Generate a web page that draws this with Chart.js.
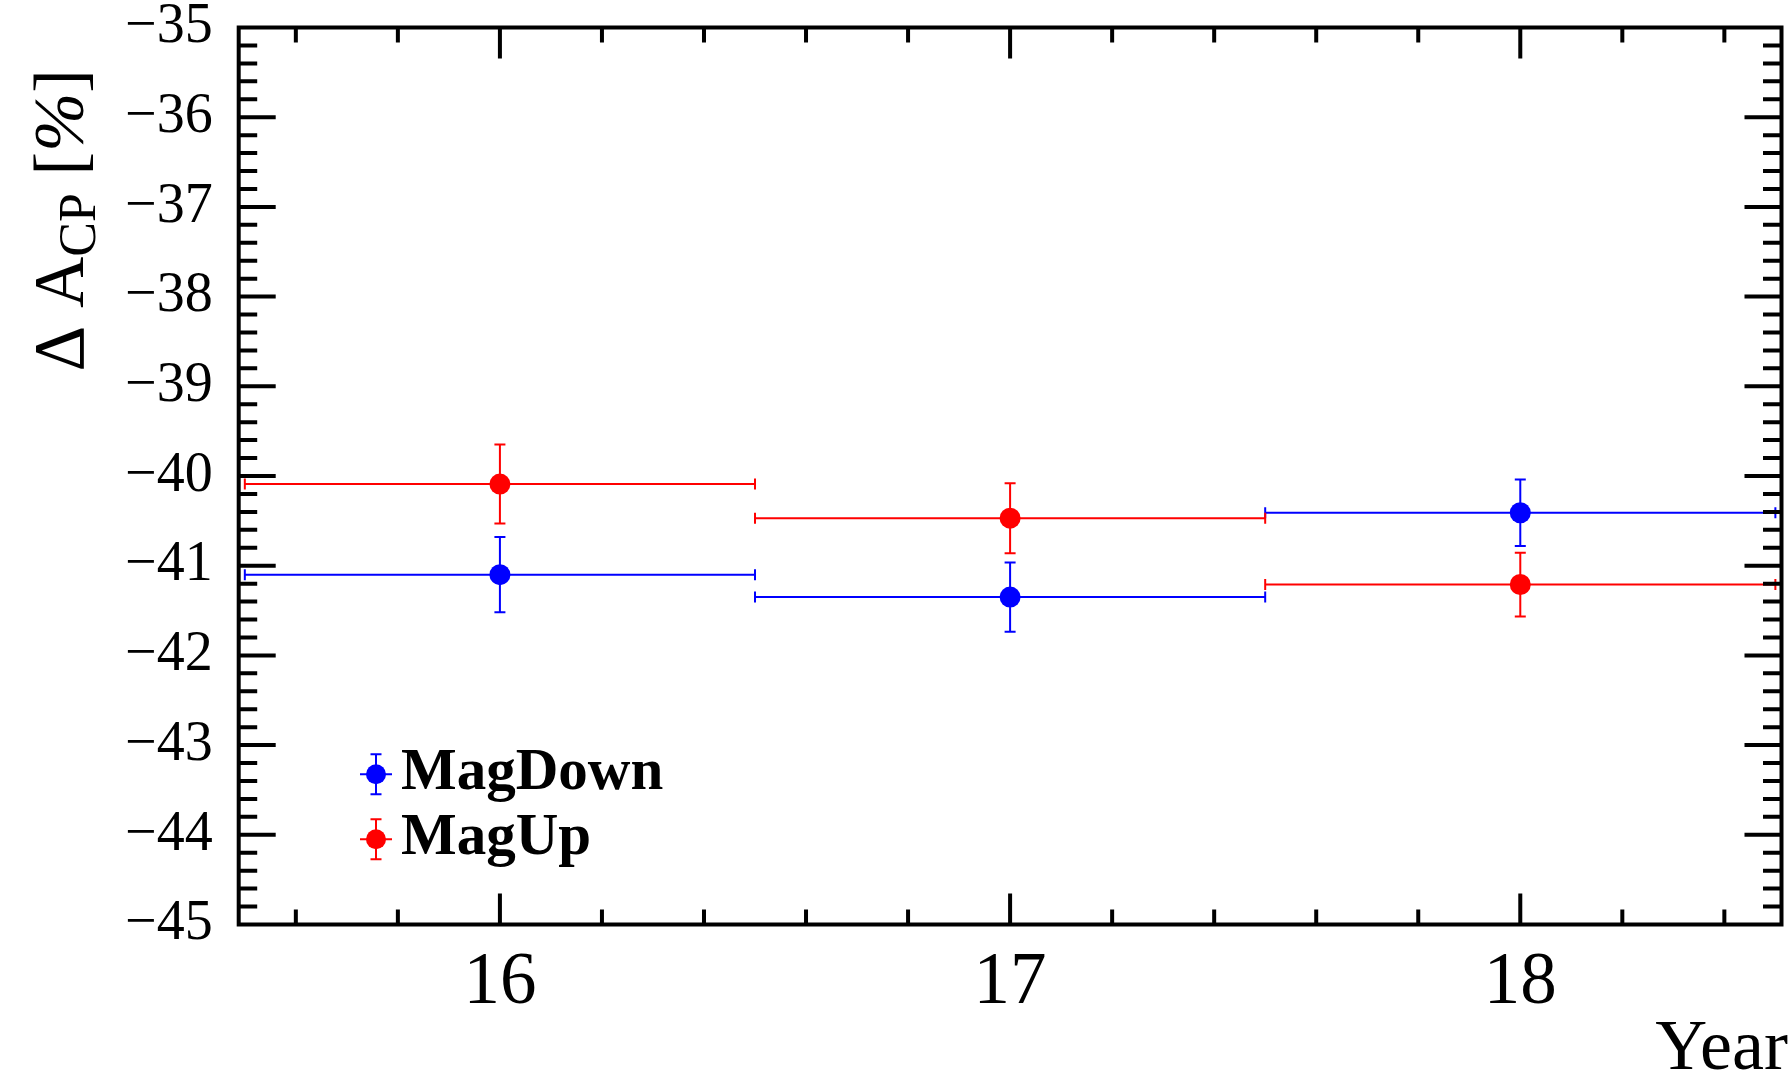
<!DOCTYPE html>
<html>
<head>
<meta charset="utf-8">
<title>Delta A_CP per year</title>
<script src="https://cdn.jsdelivr.net/npm/chart.js@4.4.1/dist/chart.umd.min.js"></script>
<style>
  html, body { margin: 0; padding: 0; background: #ffffff; }
  canvas { display: block; }
</style>
</head>
<body>
<canvas id="acp" width="1792" height="1078"></canvas>
<script>
// Data-taking years (bin centres) and half bin widths
const years = [16, 17, 18];
const yearHalfWidth = [0.5, 0.5, 0.5];

// Delta A_CP [%] per magnet polarity, with statistical uncertainties
const magDownValues = [-41.10, -41.35, -40.41];
const magDownErrors = [0.42, 0.385, 0.37];
const magUpValues = [-40.09, -40.47, -41.21];
const magUpErrors = [0.44, 0.39, 0.355];

// Axis tick labels
const xTickValues = [16, 17, 18];
const xTickLabels = ['16', '17', '18'];
const yTickValues = [-45, -44, -43, -42, -41, -40, -39, -38, -37, -36, -35];

const SERIF = '"Liberation Serif", "Times New Roman", serif';

function points(values) {
  return years.map((x, i) => ({ x: x, y: values[i] }));
}

const datasets = [
  { label: 'MagDown', color: '#0000ff', values: magDownValues, errors: magDownErrors },
  { label: 'MagUp', color: '#ff0000', values: magUpValues, errors: magUpErrors }
].map(s => ({
  label: s.label,
  data: points(s.values),
  yErr: s.errors,
  xErr: yearHalfWidth,
  backgroundColor: s.color,
  borderColor: s.color,
  pointRadius: 10.5,
  pointHoverRadius: 10.5,
  pointBorderWidth: 0,
  showLine: false
}));

// Error bars (x = bin width, y = uncertainty) with end caps, drawn under markers
const errorBars = {
  id: 'errorBars',
  beforeDatasetsDraw(chart) {
    const ctx = chart.ctx;
    const xs = chart.scales.x, ys = chart.scales.y;
    const cap = 5.5;
    ctx.save();
    ctx.lineWidth = 2;
    ctx.lineCap = 'butt';
    chart.data.datasets.forEach(ds => {
      ctx.strokeStyle = ds.borderColor;
      ds.data.forEach((p, i) => {
        const px = xs.getPixelForValue(p.x);
        const py = ys.getPixelForValue(p.y);
        const xl = xs.getPixelForValue(p.x - ds.xErr[i]);
        const xr = xs.getPixelForValue(p.x + ds.xErr[i]);
        const yt = ys.getPixelForValue(p.y + ds.yErr[i]);
        const yb = ys.getPixelForValue(p.y - ds.yErr[i]);
        ctx.beginPath();
        ctx.moveTo(xl, py); ctx.lineTo(xr, py);
        ctx.moveTo(xl, py - cap); ctx.lineTo(xl, py + cap);
        ctx.moveTo(xr, py - cap); ctx.lineTo(xr, py + cap);
        ctx.moveTo(px, yt); ctx.lineTo(px, yb);
        ctx.moveTo(px - cap, yt); ctx.lineTo(px + cap, yt);
        ctx.moveTo(px - cap, yb); ctx.lineTo(px + cap, yb);
        ctx.stroke();
      });
    });
    ctx.restore();
  }
};

// Frame, inward ticks on all four sides, axis titles and legend
const frameAndDecor = {
  id: 'frameAndDecor',
  afterDraw(chart) {
    const ctx = chart.ctx;
    const a = chart.chartArea;
    const xs = chart.scales.x, ys = chart.scales.y;
    ctx.save();
    ctx.strokeStyle = '#000';
    ctx.lineWidth = 4;
    ctx.lineCap = 'butt';
    ctx.strokeRect(a.left, a.top, a.right - a.left, a.bottom - a.top);

    ctx.beginPath();
    // y ticks: major each unit, minor each 0.2
    for (let k = 1; k < 50; k++) {
      const v = -45 + k * 0.2;
      const len = (k % 5 === 0) ? 37 : 18.5;
      const y = ys.getPixelForValue(v);
      ctx.moveTo(a.left, y); ctx.lineTo(a.left + len, y);
      ctx.moveTo(a.right, y); ctx.lineTo(a.right - len, y);
    }
    // x ticks: major each year, minor each 0.2
    for (let k = 0; k < 15; k++) {
      const v = 15.6 + k * 0.2;
      const major = Math.abs(v - Math.round(v)) < 1e-6;
      const len = major ? 31 : 15;
      const x = xs.getPixelForValue(v);
      ctx.moveTo(x, a.bottom); ctx.lineTo(x, a.bottom - len);
      ctx.moveTo(x, a.top); ctx.lineTo(x, a.top + len);
    }
    ctx.stroke();

    // x axis title
    ctx.fillStyle = '#000';
    ctx.font = '72px ' + SERIF;
    ctx.textAlign = 'right';
    ctx.textBaseline = 'alphabetic';
    ctx.fillText('Year', 1788, 1069);

    // y axis title: Δ A_CP [%], read bottom to top, ending near the top of the axis
    const big = '71px ' + SERIF;
    const sub = '52px ' + SERIF;
    const parts = [
      { t: '\u0394 A', f: big, dy: 0 },
      { t: 'CP', f: sub, dy: 12 },
      { t: ' [', f: big, dy: 0 },
      { t: '%', f: 'italic ' + big, dy: 0 },
      { t: ']', f: big, dy: 0 }
    ];
    let total = 0;
    parts.forEach(p => { ctx.font = p.f; p.w = ctx.measureText(p.t).width; total += p.w; });
    ctx.save();
    ctx.translate(83, 69);
    ctx.rotate(-Math.PI / 2);
    ctx.textAlign = 'left';
    let cx = -total;
    parts.forEach(p => { ctx.font = p.f; ctx.fillText(p.t, cx, p.dy); cx += p.w; });
    ctx.restore();

    // legend
    const legendX = 376, legendY0 = 774.3, legendStep = 65;
    chart.data.datasets.forEach((ds, i) => {
      const cy = legendY0 + i * legendStep;
      ctx.strokeStyle = ds.borderColor;
      ctx.fillStyle = ds.backgroundColor;
      ctx.lineWidth = 2;
      ctx.beginPath();
      ctx.moveTo(legendX - 16, cy); ctx.lineTo(legendX + 16, cy);
      ctx.moveTo(legendX, cy - 20); ctx.lineTo(legendX, cy + 20);
      ctx.moveTo(legendX - 5.5, cy - 20); ctx.lineTo(legendX + 5.5, cy - 20);
      ctx.moveTo(legendX - 5.5, cy + 20); ctx.lineTo(legendX + 5.5, cy + 20);
      ctx.stroke();
      ctx.beginPath();
      ctx.arc(legendX, cy, 10, 0, Math.PI * 2);
      ctx.fill();
      ctx.fillStyle = '#000';
      ctx.font = 'bold 59px ' + SERIF;
      ctx.textAlign = 'left';
      ctx.textBaseline = 'alphabetic';
      ctx.fillText(ds.label, 401, cy + 15);
    });
    ctx.restore();
  }
};

function noEdgePadding(s) {
  s.paddingTop = 0;
  s.paddingBottom = 0;
  s.paddingLeft = 0;
  s.paddingRight = 0;
}

new Chart(document.getElementById('acp'), {
  type: 'scatter',
  data: { datasets: datasets },
  options: {
    responsive: false,
    animation: false,
    devicePixelRatio: 1,
    layout: { padding: { top: 27.5, right: 8, left: 0, bottom: 0 } },
    plugins: {
      legend: { display: false },
      tooltip: { enabled: false }
    },
    events: [],
    scales: {
      x: {
        type: 'linear',
        min: 15.488,
        max: 18.512,
        afterBuildTicks: s => { s.ticks = xTickValues.map(v => ({ value: v })); },
        afterFit: s => { s.height = 153.5; noEdgePadding(s); },
        grid: { display: false },
        border: { display: false },
        ticks: {
          color: '#000',
          padding: 8,
          maxRotation: 0,
          autoSkip: false,
          font: { family: SERIF, size: 73 },
          callback: v => xTickLabels[xTickValues.indexOf(v)]
        }
      },
      y: {
        type: 'linear',
        min: -45,
        max: -35,
        afterBuildTicks: s => { s.ticks = yTickValues.map(v => ({ value: v })); },
        afterFit: s => { s.width = 238.7; noEdgePadding(s); },
        grid: { display: false },
        border: { display: false },
        ticks: {
          color: '#000',
          padding: 18,
          autoSkip: false,
          font: { family: SERIF, size: 56 },
          callback: v => (v < 0 ? '\u2212' + Math.abs(v) : String(v))
        }
      }
    }
  },
  plugins: [errorBars, frameAndDecor]
});
</script>
</body>
</html>
